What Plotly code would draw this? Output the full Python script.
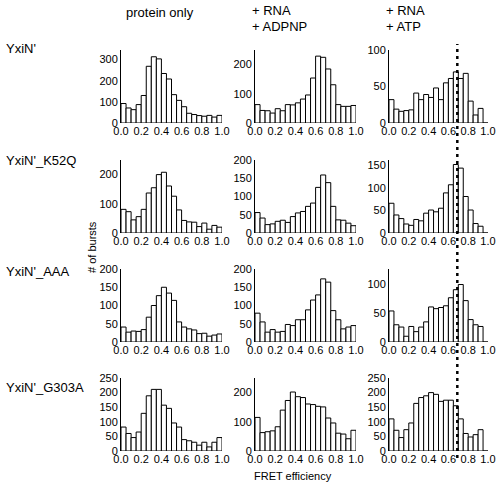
import plotly.graph_objects as go

# ---------------- data ----------------
BIN_LEFT = [0.00, 0.05, 0.10, 0.15, 0.20, 0.25, 0.30, 0.35, 0.40, 0.45,
            0.50, 0.55, 0.60, 0.65, 0.70, 0.75, 0.80, 0.85, 0.90, 0.95]
BIN_WIDTH = 0.05

conditions = ["protein only", "+ RNA\n+ ADPNP", "+ RNA\n+ ATP"]
constructs = ["YxiN'", "YxiN'_K52Q", "YxiN'_AAA", "YxiN'_G303A"]

# row: YxiN'
yxin_protein = [92, 71, 63, 87, 130, 268, 313, 303, 234, 208, 134, 107, 77, 46, 40, 35, 32, 36, 28, 36]
yxin_adpnp = [63, 43, 42, 34, 49, 42, 63, 62, 69, 82, 96, 154, 229, 225, 185, 131, 63, 57, 57, 60]
yxin_atp = [32, 19, 16, 17, 18, 41, 32, 39, 35, 48, 32, 55, 61, 70, 61, 68, 30, 11, 20, 0]
# row: YxiN'_K52Q
k52q_protein = [81, 73, 45, 56, 81, 137, 155, 200, 208, 161, 126, 79, 43, 38, 37, 22, 34, 13, 26, 20]
k52q_adpnp = [56, 41, 23, 25, 32, 35, 29, 45, 55, 59, 73, 82, 125, 159, 138, 73, 36, 35, 27, 20]
k52q_atp = [66, 40, 32, 20, 17, 30, 27, 44, 51, 47, 55, 89, 107, 152, 144, 81, 51, 21, 15, 0]
# row: YxiN'_AAA
aaa_protein = [41, 27, 30, 29, 34, 68, 100, 127, 150, 134, 114, 55, 41, 36, 33, 23, 24, 16, 19, 22]
aaa_adpnp = [79, 55, 27, 34, 27, 29, 48, 45, 61, 61, 88, 115, 129, 173, 164, 86, 61, 36, 41, 45]
aaa_atp = [54, 30, 26, 10, 27, 18, 26, 35, 61, 58, 60, 63, 77, 91, 100, 72, 39, 30, 27, 0]
# row: YxiN'_G303A
g303a_protein = [82, 60, 46, 65, 129, 189, 211, 211, 157, 146, 96, 82, 39, 35, 30, 20, 30, 14, 30, 46]
g303a_adpnp = [115, 63, 66, 69, 83, 140, 173, 202, 186, 183, 161, 159, 153, 151, 113, 96, 61, 58, 42, 71]
g303a_atp = [110, 71, 46, 73, 96, 163, 183, 189, 200, 194, 170, 174, 174, 155, 110, 60, 48, 56, 73, 0]

# y-axis ranges and tick values per panel
y_max = [[345, 250, 100], [250, 200, 162], [200, 200, 127], [250, 250, 250]]
y_ticks = [
    [[0, 100, 200, 300], [0, 100, 200], [0, 50, 100]],
    [[0, 100, 200], [0, 50, 100, 150, 200], [0, 50, 100, 150]],
    [[0, 50, 100, 150, 200], [0, 50, 100, 150, 200], [0, 50, 100]],
    [[0, 50, 100, 150, 200, 250], [0, 100, 200], [0, 50, 100, 150, 200, 250]],
]
x_ticks = [0.0, 0.2, 0.4, 0.6, 0.8, 1.0]
x_tick_text = ["0.0", "0.2", "0.4", "0.6", "0.8", "1.0"]
atp_threshold = 0.69

panels = [
    [yxin_protein, yxin_adpnp, yxin_atp],
    [k52q_protein, k52q_adpnp, k52q_atp],
    [aaa_protein, aaa_adpnp, aaa_atp],
    [g303a_protein, g303a_adpnp, g303a_atp],
]

# ---------------- layout geometry (target pixels in the window) ----------------
W, H = 496, 484
col_px = [(121, 222), (255, 356), (389, 488)]
row_px = [(50, 123), (160, 233), (269, 342), (378, 451)]


def px_x(x):
    return x / W


def px_y(y):
    return (H - y) / H


FONT = "Liberation Sans, Arial, sans-serif"

fig = go.Figure()
layout = dict(
    width=W, height=H, margin=dict(l=0, r=0, t=0, b=0, autoexpand=False),
    paper_bgcolor="white", plot_bgcolor="white",
    showlegend=False, bargap=0, template="none",
    font=dict(family=FONT, color="black"),
)

centers = [b + BIN_WIDTH / 2 for b in BIN_LEFT]
idx = 0
for r in range(4):
    for c in range(3):
        idx += 1
        sfx = "" if idx == 1 else str(idx)
        fig.add_trace(go.Bar(
            x=centers, y=panels[r][c], width=BIN_WIDTH,
            marker=dict(color="white", line=dict(color="black", width=1)),
            xaxis="x" + sfx, yaxis="y" + sfx, hoverinfo="skip",
        ))
        x0, x1 = col_px[c]
        t, b = row_px[r]
        layout["xaxis" + sfx] = dict(
            domain=[px_x(x0), px_x(x1)], anchor="y" + sfx,
            range=[0, 1.0], tickvals=x_ticks, ticktext=x_tick_text,
            showgrid=False, zeroline=False, showline=False, ticks="",
            tickfont=dict(size=11, family=FONT, color="black"),
            ticklabelstandoff=0, fixedrange=True, automargin=False,
        )
        layout["yaxis" + sfx] = dict(
            domain=[px_y(b), px_y(t)], anchor="x" + sfx,
            range=[0, y_max[r][c]], tickvals=y_ticks[r][c],
            showgrid=False, zeroline=False, showline=True,
            linecolor="black", linewidth=1, ticks="",
            tickfont=dict(size=11, family=FONT, color="black"),
            ticklabelstandoff=0, fixedrange=True, automargin=False,
        )

fig.update_layout(**layout)

# dashed threshold line through the ATP column
fig.add_shape(type="line", xref="x3", yref="paper",
              x0=atp_threshold, x1=atp_threshold,
              y0=px_y(458), y1=px_y(44),
              line=dict(color="black", width=2.5, dash="3px,4px"))


def note(text, x, y, xanchor="center", size=13, angle=0):
    return dict(text=text, x=px_x(x), y=px_y(y), xref="paper", yref="paper",
                xanchor=xanchor, yanchor="middle", showarrow=False,
                textangle=angle, font=dict(size=size, family=FONT, color="black"))


annotations = []
# column headers
annotations.append(note(conditions[0], 160, 12))
for c, xl in [(1, 250), (2, 384)]:
    lines = conditions[c].split("\n")
    annotations.append(note(lines[0], xl, 10, xanchor="left"))
    annotations.append(note(lines[1], xl, 27, xanchor="left"))
# row labels
for r, yc in enumerate([48, 160, 271, 387]):
    annotations.append(note(constructs[r], 4, yc, xanchor="left"))
# axis titles
annotations.append(note("# of bursts", 92, 247, size=11, angle=-90))
annotations.append(note("FRET efficiency", 293, 476, size=11))
fig.update_layout(annotations=annotations)

fig.write_html("out.html", config={"displayModeBar": False, "staticPlot": True},
               post_script="document.body.style.margin='0px';")
